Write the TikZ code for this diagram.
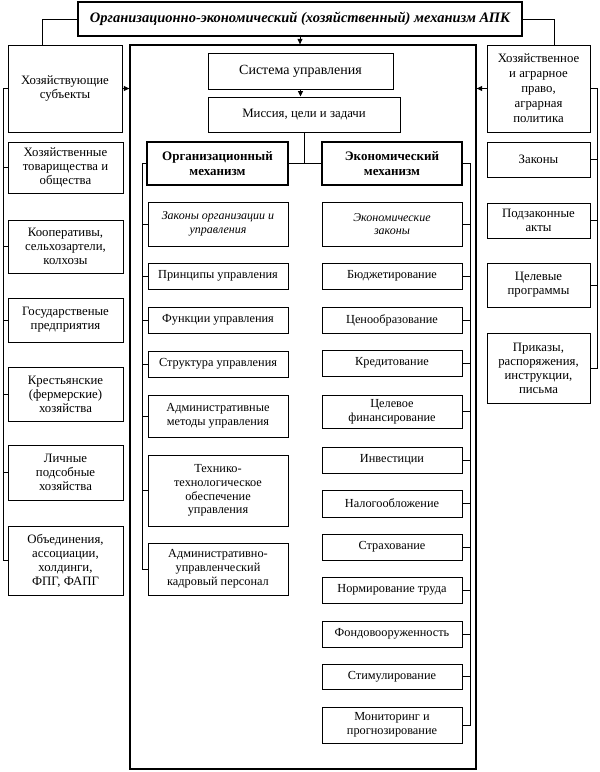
\documentclass[tikz,border=0pt]{standalone}
\usepackage{fontspec}
\setmainfont{Liberation Serif}
\usetikzlibrary{calc,arrows.meta}
\begin{document}
\begin{tikzpicture}[x=1pt,y=-1pt,
  box/.style={draw, line width=1pt, align=center, inner sep=1pt,
    font=\fontsize{12.3}{13.8}\selectfont},
  sidefont/.style={font=\fontsize{12.8}{14}\selectfont},
  thick box/.style={box, line width=1.9pt, font=\bfseries\fontsize{13}{14.5}\selectfont},
  itbox/.style={box, font=\itshape\fontsize{12}{13.8}\selectfont},
  lsub/.style={box, sidefont, minimum width=115pt},
  osub/.style={box, minimum width=140pt},
  rsub/.style={box, sidefont, minimum width=103pt},
  conn/.style={line width=1pt},
  arr/.style={conn, -{Triangle[length=5.5pt,width=5pt]}}]
\useasboundingbox (0,0) rectangle (600,772);

% top level
\node[box, line width=2.3pt, minimum width=444pt, minimum height=34pt,
  font=\bfseries\itshape\fontsize{14.5}{16}\selectfont] (title) at (300,19)
  {Организационно-экономический (хозяйственный) механизм АПК};
\node[box, line width=1.3pt, minimum width=346pt, minimum height=724pt] (big) at (303,407) {};
\node[box, sidefont, minimum width=114pt, minimum height=87pt] (subj) at (65,88.5)
  {Хозяйствующие\\субъекты};
\node[box, font=\fontsize{12.8}{15}\selectfont, minimum width=103pt, minimum height=87pt] (law) at (538.5,88.5)
  {Хозяйственное\\и аграрное\\право,\\аграрная\\политика};
\node[box, font=\fontsize{14}{16}\selectfont, minimum width=185pt, minimum height=36pt] (sys) at (300.5,71) {Система управления};
\node[box, font=\fontsize{12.8}{14}\selectfont, minimum width=192pt, minimum height=35pt] (mis) at (304,114.5) {Миссия, цели и задачи};
\node[thick box, minimum width=141pt, minimum height=43pt] (org) at (217.5,163.5) {Организационный\\механизм};
\node[thick box, minimum width=140pt, minimum height=43pt] (eco) at (392,163.5) {Экономический\\механизм};

% organisational column
\node[itbox, minimum width=140pt, minimum height=44pt] (o1) at (218,224) {Законы организации и\\управления};
\node[osub, minimum height=26pt] (o2) at (218,276) {Принципы управления};
\node[osub, minimum height=26pt] (o3) at (218,320) {Функции управления};
\node[osub, minimum height=26pt] (o4) at (218,364) {Структура управления};
\node[osub, minimum height=42pt] (o5) at (218,416) {Административные\\методы управления};
\node[osub, minimum height=71pt] (o6) at (218,490.5) {Технико-\\технологическое\\обеспечение\\управления};
\node[osub, minimum height=52pt] (o7) at (218,569) {Административно-\\управленческий\\кадровый персонал};

% economic column
\node[itbox, minimum width=140pt, minimum height=44pt] (e1) at (392,224) {Экономические\\законы};
\node[osub, minimum height=26pt] (e2) at (392,276) {Бюджетирование};
\node[osub, minimum height=26pt] (e3) at (392,320) {Ценообразование};
\node[osub, minimum height=26pt] (e4) at (392,363) {Кредитование};
\node[osub, minimum height=33pt] (e5) at (392,411.5) {Целевое\\финансирование};
\node[osub, minimum height=26pt] (e6) at (392,460) {Инвестиции};
\node[osub, minimum height=27pt] (e7) at (392,503.5) {Налогообложение};
\node[osub, minimum height=26pt] (e8) at (392,547) {Страхование};
\node[osub, minimum height=26pt] (e9) at (392,590) {Нормирование труда};
\node[osub, minimum height=26pt] (e10) at (392,634) {Фондовооруженность};
\node[osub, minimum height=25pt] (e11) at (392,676.5) {Стимулирование};
\node[osub, minimum height=36pt] (e12) at (392,725) {Мониторинг и\\прогнозирование};

% left column
\node[lsub, minimum height=51pt] (l1) at (65.5,167.5) {Хозяйственные\\товарищества и\\общества};
\node[lsub, minimum height=53pt] (l2) at (65.5,246.5) {Кооперативы,\\сельхозартели,\\колхозы};
\node[lsub, minimum height=44pt] (l3) at (65.5,320) {Государственые\\предприятия};
\node[lsub, minimum height=54pt] (l4) at (65.5,394) {Крестьянские\\(фермерские)\\хозяйства};
\node[lsub, minimum height=55pt] (l5) at (65.5,472.5) {Личные\\подсобные\\хозяйства};
\node[lsub, minimum height=69pt] (l6) at (65.5,560.5) {Объединения,\\ассоциации,\\холдинги,\\ФПГ, ФАПГ};

% right column
\node[rsub, minimum height=35pt] (r1) at (538.5,159.5) {Законы};
\node[rsub, minimum height=35pt] (r2) at (538.5,220.5) {Подзаконные\\акты};
\node[rsub, minimum height=44pt] (r3) at (538.5,285) {Целевые\\программы};
\node[rsub, minimum height=70pt] (r4) at (538.5,368) {Приказы,\\распоряжения,\\инструкции,\\письма};

% top connectors
\draw[conn] (title.west) -| ([xshift=35pt]subj.north west);
\draw[conn] (title.east) -| ([xshift=68pt]law.north west);
\draw[arr] (title.south) -- (title.south |- big.north);
\draw[arr] (subj.east) -- (subj.east -| big.west);
\draw[arr] (law.west) -- (law.west -| big.east);
\draw[arr] (sys.south) -- (sys.south |- mis.north);
\draw[conn] (mis.south) -- (mis.south |- org.east);
\draw[conn] (org.east) -- (eco.west);

% left bracket
\coordinate (lb) at (3,0);
\draw[conn] (subj.west) -- (lb |- subj.west) |- (l6.west);
\foreach \n in {l1,l2,l3,l4,l5}{\draw[conn] (lb |- \n.west) -- (\n.west);}

% organisational bracket
\coordinate (ob) at (142,0);
\draw[conn] (org.west) -- (ob |- org.west) |- (o7.west);
\foreach \n in {o1,o2,o3,o4,o5,o6}{\draw[conn] (ob |- \n.west) -- (\n.west);}

% economic bracket
\coordinate (eb) at (470,0);
\draw[conn] (eco.east) -- (eb |- eco.east) |- (e12.east);
\foreach \n in {e1,e2,e3,e4,e5,e6,e7,e8,e9,e10,e11}{\draw[conn] (eb |- \n.east) -- (\n.east);}

% right bracket
\coordinate (rb) at (597,0);
\draw[conn] (law.east) -- (rb |- law.east) |- (r4.east);
\foreach \n in {r1,r2,r3}{\draw[conn] (rb |- \n.east) -- (\n.east);}
\end{tikzpicture}
\end{document}
